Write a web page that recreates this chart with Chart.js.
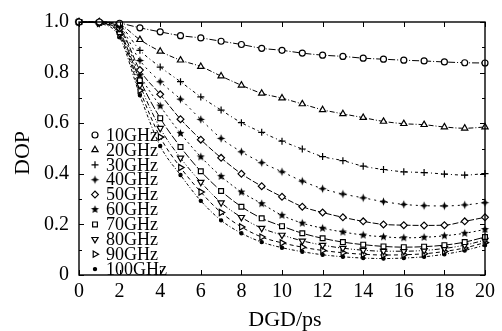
<!DOCTYPE html>
<html>
<head>
<meta charset="utf-8">
<script src="https://cdn.jsdelivr.net/npm/chart.js@4/dist/chart.umd.min.js"></script>
<style>
  html, body { margin: 0; padding: 0; background: #fff; }
  #c { display: block; }
</style>
</head>
<body>
<canvas id="c" width="502" height="331"></canvas>
<script>
"use strict";

// DGD (ps) en el eje x
const dgd = [0,1,2,3,4,5,6,7,8,9,10,11,12,13,14,15,16,17,18,19,20];
const xTicks = [0,2,4,6,8,10,12,14,16,18,20];
const yTicks = [0,0.2,0.4,0.6,0.8,1.0];

const labels = ["10GHz","20GHz","30GHz","40GHz","50GHz","60GHz","70GHz","80GHz","90GHz","100GHz"];

// DOP
const dop10  = [1,1,0.995,0.977,0.961,0.946,0.937,0.924,0.911,0.896,0.888,0.877,0.869,0.864,0.857,0.853,0.849,0.846,0.842,0.839,0.838];
const dop20  = [1,1,0.99,0.93,0.884,0.849,0.824,0.786,0.75,0.718,0.699,0.676,0.653,0.637,0.622,0.607,0.598,0.594,0.585,0.58,0.585];
const dop30  = [1,1,0.985,0.888,0.822,0.764,0.704,0.652,0.602,0.564,0.529,0.498,0.468,0.452,0.43,0.417,0.408,0.405,0.399,0.395,0.401];
const dop40  = [1,1,0.98,0.848,0.764,0.695,0.615,0.54,0.487,0.444,0.408,0.371,0.341,0.32,0.305,0.29,0.279,0.274,0.273,0.277,0.286];
const dop50  = [1,1,0.975,0.81,0.714,0.616,0.535,0.463,0.4,0.351,0.309,0.27,0.247,0.228,0.212,0.2,0.197,0.196,0.197,0.212,0.228];
const dop60  = [1,0.998,0.97,0.79,0.668,0.56,0.467,0.39,0.328,0.282,0.236,0.205,0.185,0.17,0.158,0.151,0.147,0.149,0.155,0.165,0.18];
const dop70  = [1,0.997,0.96,0.77,0.62,0.506,0.41,0.332,0.27,0.224,0.193,0.165,0.145,0.13,0.12,0.113,0.11,0.112,0.118,0.13,0.15];
const dop80  = [1,0.996,0.955,0.75,0.58,0.463,0.367,0.286,0.228,0.185,0.158,0.135,0.118,0.106,0.098,0.094,0.094,0.097,0.105,0.118,0.138];
const dop90  = [1,0.995,0.95,0.73,0.545,0.425,0.328,0.247,0.19,0.15,0.127,0.11,0.097,0.088,0.082,0.079,0.08,0.084,0.093,0.107,0.128];
const dop100 = [1,0.994,0.94,0.71,0.51,0.395,0.293,0.216,0.165,0.13,0.108,0.092,0.08,0.072,0.067,0.065,0.067,0.072,0.082,0.097,0.118];

const series = [dop10, dop20, dop30, dop40, dop50, dop60, dop70, dop80, dop90, dop100];

const FONT = "'Liberation Serif', 'Times New Roman', serif";

// estrellas rellenas como imagen de marcador
function makeStar(n, outer, inner) {
  const cv = document.createElement("canvas");
  const s = Math.ceil(outer * 2 + 2);
  cv.width = s; cv.height = s;
  const g = cv.getContext("2d");
  g.translate(s / 2, s / 2);
  g.beginPath();
  for (let i = 0; i < n * 2; i++) {
    const r = i % 2 === 0 ? outer : inner;
    const a = -Math.PI / 2 + (i * Math.PI) / n;
    g.lineTo(r * Math.cos(a), r * Math.sin(a));
  }
  g.closePath();
  g.fillStyle = "#000";
  g.fill();
  return cv;
}

const star4 = makeStar(4, 4.2, 1.6);
const star5 = makeStar(5, 4.2, 1.9);

const markers = [
  { style: "circle", r: 3, fill: "#fff", rot: 0 },
  { style: "triangle", r: 3.6, fill: "#fff", rot: 0 },
  { style: "cross", r: 3.5, fill: "#000", rot: 0 },
  { style: star4, r: 4, fill: "#000", rot: 0 },
  { style: "rectRot", r: 3.4, fill: "#fff", rot: 0 },
  { style: star5, r: 4, fill: "#000", rot: 0 },
  { style: "rect", r: 3.4, fill: "#fff", rot: 0 },
  { style: "triangle", r: 3.6, fill: "#fff", rot: 180 },
  { style: "triangle", r: 3.6, fill: "#fff", rot: 90 },
  { style: "circle", r: 1.6, fill: "#000", rot: 0 },
];

const dashes = [
  [7,2,1,2], [5,2,1,2], [3,3,1,3], [2,4], [6,2],
  [2,3], [8,2], [5,2,1,2,1,2], [4,3], [3,2,1,2],
];

const datasets = series.map((vals, i) => ({
  label: labels[i],
  data: vals.map((v, k) => ({ x: dgd[k], y: v })),
  borderColor: "#000",
  borderWidth: 1,
  borderDash: dashes[i],
  tension: 0.35,
  cubicInterpolationMode: "monotone",
  pointStyle: markers[i].style,
  pointRadius: markers[i].r,
  pointRotation: markers[i].rot,
  pointBackgroundColor: markers[i].fill,
  pointBorderColor: "#000",
  pointBorderWidth: 1.2,
  clip: false,
}));

// marco, marcas interiores, títulos y leyenda
const decor = {
  id: "decor",
  afterDraw(chart) {
    const { ctx, chartArea: a, scales } = chart;
    const sx = scales.x, sy = scales.y;
    ctx.save();
    ctx.strokeStyle = "#000";
    ctx.lineWidth = 1.4;
    ctx.strokeRect(a.left, a.top, a.right - a.left, a.bottom - a.top);

    ctx.lineWidth = 1;
    ctx.beginPath();
    xTicks.forEach((v) => {
      const px = Math.round(sx.getPixelForValue(v)) + 0.5;
      ctx.moveTo(px, a.bottom); ctx.lineTo(px, a.bottom - 5);
      ctx.moveTo(px, a.top); ctx.lineTo(px, a.top + 5);
    });
    for (let k = 0; k <= 10; k++) {
      const py = Math.round(sy.getPixelForValue(k / 10)) + 0.5;
      const len = k % 2 === 0 ? 5 : 3;
      ctx.moveTo(a.left, py); ctx.lineTo(a.left + len, py);
      ctx.moveTo(a.right, py); ctx.lineTo(a.right - len, py);
    }
    ctx.stroke();

    ctx.fillStyle = "#000";
    ctx.font = "22px " + FONT;
    ctx.textAlign = "center";
    ctx.textBaseline = "middle";
    ctx.fillText("DGD/ps", 285, 320);
    ctx.save();
    ctx.translate(23, 153);
    ctx.rotate(-Math.PI / 2);
    ctx.fillText("DOP", 0, 0);
    ctx.restore();

    // leyenda
    ctx.font = "18px " + FONT;
    ctx.textAlign = "left";
    chart.data.datasets.forEach((ds, i) => {
      const y = 135 + i * 14.9;
      const m = markers[i];
      ctx.fillStyle = m.fill;
      ctx.strokeStyle = "#000";
      ctx.lineWidth = 1.2;
      Chart.helpers.drawPoint(ctx, {
        pointStyle: m.style, radius: m.r, rotation: m.rot, borderWidth: 1.2,
      }, 95, y);
      ctx.fillStyle = "#000";
      ctx.fillText(ds.label, 106, y + 1);
    });
    ctx.restore();
  },
};

new Chart(document.getElementById("c"), {
  type: "line",
  data: { datasets },
  options: {
    responsive: false,
    animation: false,
    layout: { padding: { top: 7, right: 17, left: 0, bottom: 0 } },
    plugins: { legend: { display: false }, tooltip: { enabled: false } },
    scales: {
      x: {
        type: "linear",
        min: 0, max: 20,
        afterBuildTicks: (s) => { s.ticks = xTicks.map((v) => ({ value: v })); },
        afterFit: (s) => { s.height = 56; },
        grid: { display: false, drawTicks: false },
        border: { display: false },
        ticks: { color: "#000", font: { family: FONT, size: 20 }, padding: 5, maxRotation: 0 },
      },
      y: {
        min: 0, max: 1,
        afterBuildTicks: (s) => { s.ticks = yTicks.map((v) => ({ value: v })); },
        afterFit: (s) => { s.width = 79; },
        grid: { display: false, drawTicks: false },
        border: { display: false },
        ticks: {
          color: "#000", font: { family: FONT, size: 20 }, padding: 10,
          callback: (v) => (v === 0 ? "0" : v.toFixed(1)),
        },
      },
    },
  },
  plugins: [decor],
});
</script>
</body>
</html>
